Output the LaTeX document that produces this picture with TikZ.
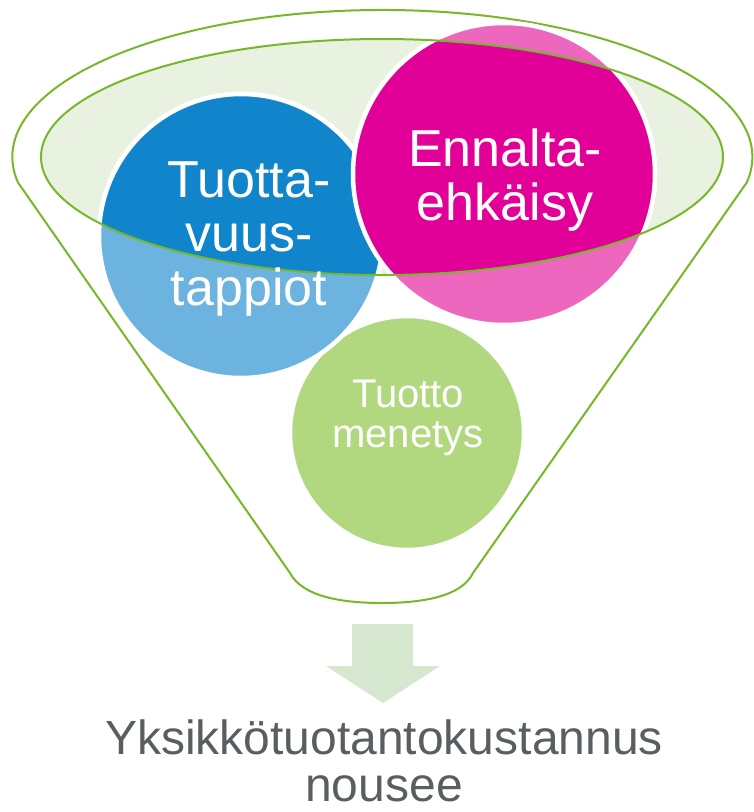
\documentclass[tikz,border=0pt]{standalone}
\usepackage{fontspec}
\setmainfont{Liberation Sans}
\definecolor{fgreen}{HTML}{76B82A}
\definecolor{efill}{HTML}{E9F1E1}
\definecolor{bdark}{HTML}{1185CC}
\definecolor{blight}{HTML}{6DB3E0}
\definecolor{pdark}{HTML}{E10098}
\definecolor{plight}{HTML}{EE67BF}
\definecolor{gcirc}{HTML}{B1D87E}
\definecolor{arrowc}{HTML}{D5E8CF}
\definecolor{txtgrey}{HTML}{595E61}
\begin{document}
\begin{tikzpicture}[x=1pt,y=-1pt,
  funnelline/.style={draw=fgreen,line width=2pt},
  bubble/.style={draw=white,line width=4.5pt},
  bubbletext/.style={text=white,align=center,anchor=base,inner sep=0pt},
  bigtext/.style={bubbletext,font=\fontsize{52}{54}\selectfont},
  smalltext/.style={bubbletext,font=\fontsize{40}{40}\selectfont},
  resulttext/.style={text=txtgrey,align=center,anchor=base,inner sep=0pt,font=\fontsize{48}{47}\selectfont}]
\useasboundingbox (0,0) rectangle (754,812);
% funnel body
\path[funnelline,fill=white] (18,182.5) arc[start angle=170,end angle=370,x radius=370,y radius=147]
  -- (473,573) .. controls (462,596) and (424,603) .. (382,603)
  .. controls (340,603) and (302,596) .. (290,573) -- cycle;
% inner ellipse fill
\fill[efill] (382,157) ellipse[x radius=341,y radius=118];
% light circles
\path[bubble,fill=gcirc] (407,433) circle[radius=117];
\path[bubble,fill=blight] (241,236) circle[radius=142];
\path[bubble,fill=plight] (504,174) circle[radius=151];
% dark parts inside the ellipse
\begin{scope}
  \clip (382,157) ellipse[x radius=341,y radius=118];
  \path[bubble,fill=bdark] (241,236) circle[radius=142];
  \path[bubble,fill=pdark] (504,174) circle[radius=151];
\end{scope}
% inner ellipse outline
\draw[funnelline] (382,157) ellipse[x radius=341,y radius=118];
% texts (anchor = baseline of the last line)
\node[bigtext] (tappiot) at (249,305) {Tuotta-\\vuus-\\tappiot};
\node[bigtext] (ehkaisy) at (505,220) {Ennalta-\\ehkäisy};
\node[smalltext] (menetys) at (408,447) {Tuotto\\menetys};
% arrow
\fill[arrowc] (352,624) -- (413,624) -- (413,666) -- (440,666) -- (383,703)
  -- (326,666) -- (352,666) -- cycle;
\node[resulttext] (result) at (384,801) {Yksikkötuotantokustannus\\nousee};
\end{tikzpicture}
\end{document}
